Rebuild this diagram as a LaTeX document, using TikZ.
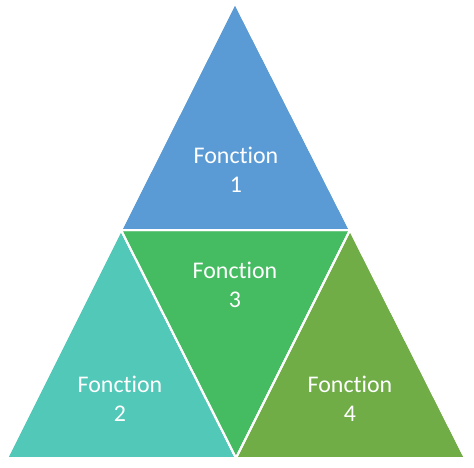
\documentclass[tikz,border=0pt]{standalone}
\usepackage{fontspec}
\setmainfont[Ligatures={NoCommon,NoDiscretionary}]{Carlito}
\usepackage{tikz}
\definecolor{fblue}{RGB}{91,155,213}
\definecolor{fteal}{RGB}{82,200,184}
\definecolor{fgreen}{RGB}{70,188,98}
\definecolor{folive}{RGB}{112,173,71}

\begin{document}
\begin{tikzpicture}[x=1bp,y=-1bp]
  \tikzstyle{part}=[draw=white,line width=2bp,line join=miter]
  \tikzstyle{label}=[text=white,align=center,font=\fontsize{24}{29}\selectfont]
  \useasboundingbox (0,0) rectangle (474,468);

  \coordinate (top) at (235,3);
  \coordinate (bl)  at (7,458);
  \coordinate (br)  at (465,458);
  \coordinate (ml)  at (121,230);
  \coordinate (mr)  at (350,230);
  \coordinate (mb)  at (236,458);

  \fill[part,fill=fblue]  (top) -- (ml) -- (mr) -- cycle;
  \fill[part,fill=fteal]  (ml) -- (bl) -- (mb) -- cycle;
  \fill[part,fill=fgreen] (ml) -- (mr) -- (mb) -- cycle;
  \fill[part,fill=folive] (mr) -- (mb) -- (br) -- cycle;
  \draw[part] (top) -- (ml) -- (mr) -- cycle;
  \draw[part] (ml) -- (bl) -- (mb) -- cycle;
  \draw[part] (mr) -- (mb) -- (br) -- cycle;

  \node[label] (f1) at (236,170) {Fonction\\1};
  \node[label] (f3) at (235,285) {Fonction\\3};
  \node[label] (f2) at (120,399) {Fonction\\2};
  \node[label] (f4) at (350,399) {Fonction\\4};
\end{tikzpicture}
\end{document}
